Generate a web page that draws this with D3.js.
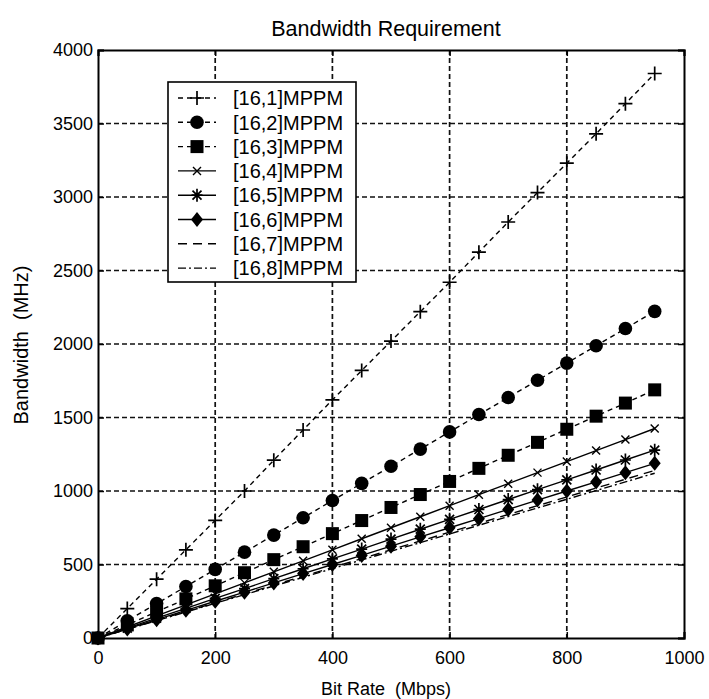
<!DOCTYPE html>
<html>
<head>
<meta charset="utf-8">
<script src="https://cdn.jsdelivr.net/npm/d3@7"></script>
<style>
  html, body { margin: 0; padding: 0; background: #fff; }
  text { font-family: "Liberation Sans", Arial, sans-serif; fill: #000; white-space: pre; }
</style>
</head>
<body>
<svg id="chart" width="709" height="699"></svg>
<script>
// ---- data ----
const bitRates = [0, 50, 100, 150, 200, 250, 300, 350, 400, 450, 500, 550, 600, 650, 700, 750, 800, 850, 900, 950];
const seriesNames = ["[16,1]MPPM", "[16,2]MPPM", "[16,3]MPPM", "[16,4]MPPM", "[16,5]MPPM", "[16,6]MPPM", "[16,7]MPPM", "[16,8]MPPM"];
const bw161 = [0, 200, 400, 600, 800, 1000, 1210, 1415, 1620, 1820, 2020, 2220, 2420, 2625, 2830, 3030, 3230, 3430, 3635, 3840];
const bw162 = [0, 117, 234, 350, 467, 584, 700, 818, 935, 1052, 1168, 1285, 1402, 1520, 1636, 1753, 1870, 1988, 2105, 2222];
const bw163 = [0, 89, 178, 266, 355, 444, 533, 621, 710, 799, 888, 976, 1065, 1154, 1243, 1331, 1420, 1509, 1598, 1688];
const bw164 = [0, 75, 150, 225, 300, 375, 450, 525, 600, 675, 750, 825, 900, 975, 1050, 1125, 1200, 1275, 1350, 1425];
const bw165 = [0, 67, 135, 202, 269, 336, 404, 471, 538, 605, 673, 740, 807, 874, 942, 1009, 1076, 1143, 1211, 1278];
const bw166 = [0, 62, 125, 188, 250, 312, 375, 438, 500, 562, 625, 688, 750, 812, 875, 938, 1000, 1062, 1125, 1188];
const bw167 = [0, 60, 120, 180, 240, 300, 360, 420, 480, 540, 600, 660, 720, 780, 840, 900, 960, 1020, 1080, 1140];
const bw168 = [0, 59, 118, 177, 236, 295, 354, 413, 472, 531, 590, 649, 708, 767, 826, 885, 944, 1003, 1062, 1121];
const xTicks = [0, 200, 400, 600, 800, 1000];
const yTicks = [0, 500, 1000, 1500, 2000, 2500, 3000, 3500, 4000];
const titleText = "Bandwidth Requirement";
const xLabel = "Bit Rate  (Mbps)";
const yLabel = "Bandwidth  (MHz)";

// ---- styles per series ----
const seriesData = [bw161, bw162, bw163, bw164, bw165, bw166, bw167, bw168];
const styles = [
  { dash: "5,4", marker: "plus" },
  { dash: "5,4", marker: "circle" },
  { dash: "5,4", marker: "square" },
  { dash: null, marker: "cross" },
  { dash: null, marker: "star" },
  { dash: null, marker: "diamond" },
  { dash: "9,6", marker: null },
  { dash: "8,3,2,3", marker: null }
];

const svg = d3.select("#chart");
svg.append("rect").attr("width", 709).attr("height", 699).attr("fill", "#fff");

const L = 98, R = 684, T = 50, B = 638;
const x = d3.scaleLinear().domain([0, 1000]).range([L, R]);
const y = d3.scaleLinear().domain([0, 4000]).range([B, T]);

// grid
const grid = svg.append("g");
grid.selectAll(".gx").data(xTicks.filter(d => d > 0 && d < 1000)).enter().append("line")
  .attr("x1", d => x(d)).attr("x2", d => x(d)).attr("y1", T).attr("y2", B)
  .attr("stroke", "#111").attr("stroke-width", 1.7).attr("stroke-dasharray", "5,3");
grid.selectAll(".gy").data(yTicks.filter(d => d > 0 && d < 4000)).enter().append("line")
  .attr("x1", L).attr("x2", R).attr("y1", d => y(d)).attr("y2", d => y(d))
  .attr("stroke", "#111").attr("stroke-width", 1.7).attr("stroke-dasharray", "5,3");

// axes
const fs = 18;
const axB = svg.append("g").attr("transform", `translate(0,${B})`)
  .call(d3.axisBottom(x).tickValues(xTicks).tickSize(-6).tickPadding(13).tickFormat(d3.format("d")));
const axT = svg.append("g").attr("transform", `translate(0,${T})`)
  .call(d3.axisTop(x).tickValues(xTicks).tickSize(-6).tickFormat(""));
const axL = svg.append("g").attr("transform", `translate(${L},0)`)
  .call(d3.axisLeft(y).tickValues(yTicks).tickSize(-6).tickPadding(5).tickFormat(d3.format("d")));
const axR = svg.append("g").attr("transform", `translate(${R},0)`)
  .call(d3.axisRight(y).tickValues(yTicks).tickSize(-6).tickFormat(""));
[axB, axT, axL, axR].forEach(a => {
  a.select(".domain").attr("stroke", "#000").attr("stroke-width", 2);
  a.selectAll(".tick line").attr("stroke", "#000").attr("stroke-width", 1.5);
  a.selectAll(".tick text").attr("font-size", fs).attr("font-family", "Liberation Sans, Arial, sans-serif").attr("fill", "#000");
});

// marker drawing
function drawMarker(g, type, cx, cy) {
  const k = "#000";
  if (type === "plus") {
    g.append("path").attr("d", `M${cx-7},${cy}H${cx+7}M${cx},${cy-7}V${cy+7}`).attr("stroke", k).attr("stroke-width", 1.7).attr("fill", "none");
  } else if (type === "circle") {
    g.append("circle").attr("cx", cx).attr("cy", cy).attr("r", 6.8).attr("fill", k);
  } else if (type === "square") {
    g.append("rect").attr("x", cx-6.5).attr("y", cy-6.5).attr("width", 13).attr("height", 13).attr("fill", k);
  } else if (type === "cross") {
    g.append("path").attr("d", `M${cx-4},${cy-4}L${cx+4},${cy+4}M${cx-4},${cy+4}L${cx+4},${cy-4}`).attr("stroke", k).attr("stroke-width", 1.4).attr("fill", "none");
  } else if (type === "star") {
    g.append("path").attr("d", `M${cx-5.5},${cy}H${cx+5.5}M${cx},${cy-6.5}V${cy+6.5}M${cx-4.5},${cy-4.5}L${cx+4.5},${cy+4.5}M${cx-4.5},${cy+4.5}L${cx+4.5},${cy-4.5}`).attr("stroke", k).attr("stroke-width", 1.7).attr("fill", "none");
  } else if (type === "diamond") {
    g.append("path").attr("d", `M${cx},${cy-7.5}L${cx+6},${cy}L${cx},${cy+7.5}L${cx-6},${cy}Z`).attr("fill", k);
  }
}

// series lines + markers
const line = d3.line().x((d, i) => x(bitRates[i])).y(d => y(d));
const plot = svg.append("g");
seriesData.forEach((vals, si) => {
  const st = styles[si];
  plot.append("path").datum(vals).attr("d", line)
    .attr("fill", "none").attr("stroke", "#000").attr("stroke-width", 1.4)
    .attr("stroke-dasharray", st.dash);
  if (st.marker) {
    const mg = plot.append("g");
    vals.forEach((v, i) => drawMarker(mg, st.marker, x(bitRates[i]), y(v)));
  }
});

// legend
const lg = svg.append("g");
const lx = 168, ly = 82, lw = 188, lh = 200;
lg.append("rect").attr("x", lx).attr("y", ly).attr("width", lw).attr("height", lh)
  .attr("fill", "#fff").attr("stroke", "#000").attr("stroke-width", 1.6);
seriesNames.forEach((name, i) => {
  const cy = 98 + i * 24.3;
  const st = styles[i];
  lg.append("line").attr("x1", 178).attr("x2", 216).attr("y1", cy).attr("y2", cy)
    .attr("stroke", "#000").attr("stroke-width", 1.4).attr("stroke-dasharray", st.dash);
  if (st.marker) drawMarker(lg, st.marker, 197, cy);
  lg.append("text").attr("x", 233).attr("y", cy).attr("dy", "0.36em")
    .attr("font-size", 20).text(name);
});

// titles
svg.append("text").attr("x", 386).attr("y", 28).attr("dy", "0.36em").attr("text-anchor", "middle")
  .attr("font-size", 21.5).text(titleText);
svg.append("text").attr("x", 386).attr("y", 689).attr("dy", "0.36em").attr("text-anchor", "middle")
  .attr("font-size", 18).text(xLabel);
svg.append("text").attr("transform", "translate(21,345) rotate(-90)").attr("dy", "0.36em")
  .attr("text-anchor", "middle").attr("font-size", 20).text(yLabel);
</script>
</body>
</html>
